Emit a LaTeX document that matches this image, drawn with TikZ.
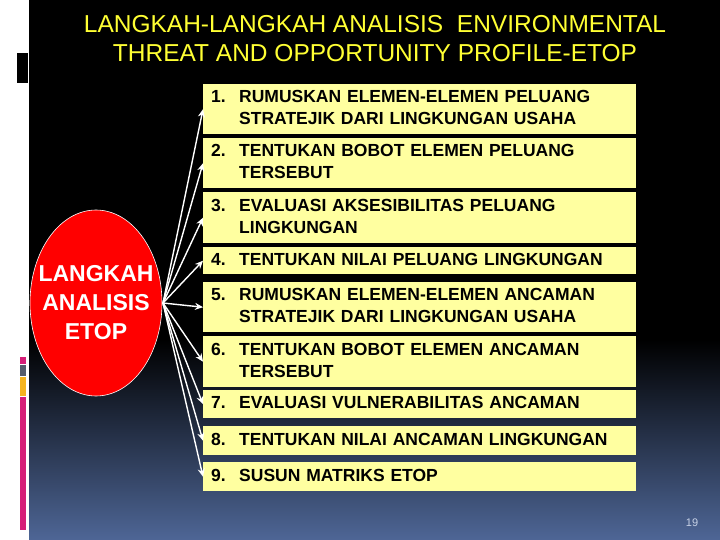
\documentclass[tikz,border=0pt]{standalone}
\usepackage{fontspec}
\setmainfont{Liberation Sans}
\usetikzlibrary{arrows.meta}
\definecolor{boxyellow}{RGB}{255,255,160}
\definecolor{titleyellow}{RGB}{255,255,51}
\definecolor{bgblue}{RGB}{78,102,150}
\definecolor{barpink}{RGB}{214,30,120}
\definecolor{bargray}{RGB}{85,92,108}
\definecolor{barorange}{RGB}{245,180,30}
\definecolor{pagenum}{RGB}{200,210,230}
\tikzset{
  stepbox/.style={draw=none, fill=boxyellow, anchor=north west, minimum width=433pt,
    inner xsep=8pt, inner ysep=0pt, text width=417pt, align=left,
    font=\fontsize{17.5}{22}\selectfont\bfseries},
  link/.style={draw=white, line width=1.4pt, -{Stealth[length=8pt,width=7pt]}},
}
\newcommand{\stepone}[2]{\begin{tabular}{@{}p{28pt}@{}l@{}}#1&#2\end{tabular}}
\newcommand{\steptwo}[3]{\begin{tabular}{@{}p{28pt}@{}l@{}}#1&#2\\&#3\end{tabular}}
\begin{document}
\begin{tikzpicture}[x=1pt,y=-1pt]
\useasboundingbox (0,0) rectangle (720,540);
% background
\fill[white] (0,0) rectangle (720,540);
\fill[black] (29,0) rectangle (720,341);
\shade[top color=black, bottom color=bgblue] (29,340) rectangle (720,540);
\fill[black] (17,53) rectangle (28,83);
\fill[barpink] (20,357) rectangle (26,364);
\fill[bargray] (20,365) rectangle (26,376);
\fill[barorange] (20,377) rectangle (26,396);
\fill[barpink] (20,397) rectangle (26,530);
% title
\node[text=titleyellow, font=\fontsize{24.5}{29}\selectfont, align=center] (title) at (375,39)
  {LANGKAH-LANGKAH ANALISIS\ \ ENVIRONMENTAL\\THREAT AND OPPORTUNITY PROFILE-ETOP};
% ellipse
\fill[red, draw=white, line width=0.6pt] (96,303) ellipse [x radius=66, y radius=93];
\node[text=white, font=\fontsize{23}{29}\selectfont\bfseries, align=center, inner sep=0pt] (e) at (96,303)
  {LANGKAH\\ANALISIS\\ETOP};
\coordinate (src) at (163,303);
% steps
\node[stepbox, minimum height=50pt] (s1) at (203,84) {\steptwo{1.}{RUMUSKAN ELEMEN-ELEMEN PELUANG}{STRATEJIK DARI LINGKUNGAN USAHA}};
\node[stepbox, minimum height=50pt] (s2) at (203,138) {\steptwo{2.}{TENTUKAN BOBOT ELEMEN PELUANG}{TERSEBUT}};
\node[stepbox, minimum height=51pt] (s3) at (203,192) {\steptwo{3.}{EVALUASI AKSESIBILITAS PELUANG}{LINGKUNGAN}};
\node[stepbox, minimum height=27pt] (s4) at (203,247) {\stepone{4.}{TENTUKAN NILAI PELUANG LINGKUNGAN}};
\node[stepbox, minimum height=50pt] (s5) at (203,282) {\steptwo{5.}{RUMUSKAN ELEMEN-ELEMEN ANCAMAN}{STRATEJIK DARI LINGKUNGAN USAHA}};
\node[stepbox, minimum height=51pt] (s6) at (203,336) {\steptwo{6.}{TENTUKAN BOBOT ELEMEN ANCAMAN}{TERSEBUT}};
\node[stepbox, minimum height=28pt] (s7) at (203,390) {\stepone{7.}{EVALUASI VULNERABILITAS ANCAMAN}};
\node[stepbox, minimum height=29pt] (s8) at (203,426) {\stepone{8.}{TENTUKAN NILAI ANCAMAN LINGKUNGAN}};
\node[stepbox, minimum height=29pt] (s9) at (203,462) {\stepone{9.}{SUSUN MATRIKS ETOP}};
% connectors
\foreach \s in {s1,s2,s3,s4,s5,s6,s7,s8,s9}{
  \draw[link] (src) -- (\s.west);
}
% page number
\node[text=pagenum, font=\fontsize{11}{13}\selectfont] (pg) at (692,523) {19};
\end{tikzpicture}
\end{document}
